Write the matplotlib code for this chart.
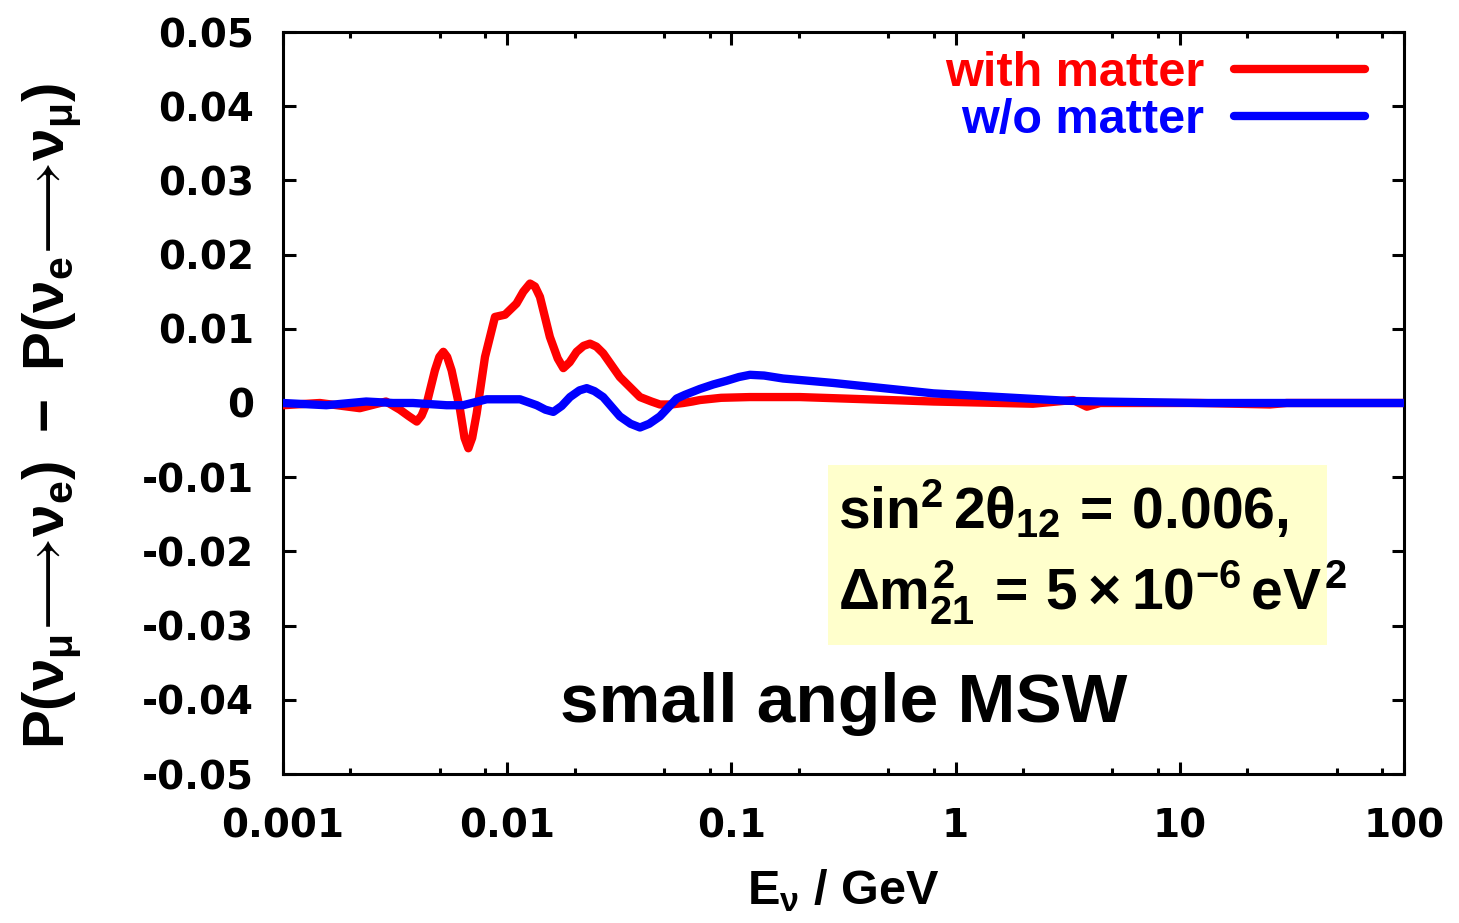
import matplotlib
matplotlib.use('Agg')
import matplotlib.pyplot as plt
from matplotlib.patches import Rectangle
from matplotlib.ticker import FixedLocator, FixedFormatter

# bold sans maths, close to the gnuplot/Arial look
plt.rcParams['mathtext.fontset'] = 'custom'
plt.rcParams['mathtext.rm'] = 'Liberation Sans:bold'
plt.rcParams['mathtext.it'] = 'Liberation Sans:bold'
plt.rcParams['mathtext.bf'] = 'Liberation Sans:bold'
plt.rcParams['mathtext.sf'] = 'Liberation Sans:bold'

# Data
e_matter = [0.001, 0.00146, 0.0022, 0.00288, 0.00332, 0.00365, 0.00395, 0.00415,
            0.00438, 0.00476, 0.00498, 0.00519, 0.00540, 0.00565, 0.00616, 0.00645,
            0.00671, 0.00698, 0.00731, 0.00796, 0.00882, 0.00978, 0.0110, 0.0118,
            0.01264, 0.0133, 0.0140, 0.0155, 0.0168, 0.0178, 0.0190, 0.0204, 0.0219,
            0.0234, 0.0250, 0.0268, 0.0318, 0.0391, 0.0440, 0.0480, 0.0540, 0.0610,
            0.067, 0.0724, 0.09, 0.121, 0.202, 0.401, 0.796, 1.58, 2.21, 3.34, 3.85,
            4.41, 12.3, 25.2, 30.0, 100.0]
p_matter = [-0.0003, 0.0, -0.0007, 0.0002, -0.0009, -0.0018, -0.0025, -0.0017,
            0.0, 0.0044, 0.0062, 0.0069, 0.0062, 0.0044, -0.0009, -0.0047,
            -0.0061, -0.0047, -0.0014, 0.0062, 0.0116, 0.0119, 0.0134, 0.0150,
            0.0161, 0.0157, 0.0143, 0.0089, 0.0060, 0.0047, 0.0055, 0.0069, 0.0077,
            0.0080, 0.0076, 0.0067, 0.0035, 0.0008, 0.0002, -0.0002, -0.0002, 0.0,
            0.0002, 0.0004, 0.0007, 0.0008, 0.0008, 0.0005, 0.0002, 0.0, -0.0001, 0.0004, -0.0005,
            0.0, 0.0, -0.0002, 0.0, 0.0]

e_vacuum = [0.001, 0.00156, 0.00235, 0.0031, 0.0038, 0.00537, 0.00635, 0.0081,
            0.0114, 0.01354, 0.0148, 0.01606, 0.0175, 0.01906, 0.0210, 0.02263,
            0.0245, 0.0268, 0.0318, 0.0355, 0.0391, 0.0430, 0.0480, 0.0570, 0.0620,
            0.0724, 0.0830, 0.0953, 0.108, 0.121, 0.140, 0.170, 0.285, 0.476, 0.796,
            1.58, 3.13, 4.41, 12.3, 100.0]
p_vacuum = [0.0, -0.0003, 0.0002, 0.0, 0.0, -0.0003, -0.0003, 0.0005,
            0.0005, -0.0003, -0.0009, -0.0012, -0.0004, 0.0008, 0.0017, 0.0020,
            0.0016, 0.0008, -0.0018, -0.0028, -0.0033, -0.0028, -0.0018, 0.0006, 0.0011,
            0.0019, 0.0025, 0.0030, 0.0035, 0.0038, 0.0037, 0.0033, 0.0027, 0.0020, 0.0013,
            0.0008, 0.0003, 0.0002, 0.0, 0.0]

xticks = [0.001, 0.01, 0.1, 1, 10, 100]
xtick_labels = ['0.001', '0.01', '0.1', '1', '10', '100']
yticks = [-0.05, -0.04, -0.03, -0.02, -0.01, 0, 0.01, 0.02, 0.03, 0.04, 0.05]
ytick_labels = ['-0.05', '-0.04', '-0.03', '-0.02', '-0.01', '0',
                '0.01', '0.02', '0.03', '0.04', '0.05']

fig = plt.figure(figsize=(14.59, 9.23), dpi=100)
ax = fig.add_axes([283/1459, 1-774/923, 1121/1459, 742/923])

ax.plot(e_matter, p_matter, color='#FF0000', lw=6, solid_joinstyle='round',
        solid_capstyle='round', label='with matter', zorder=3)
ax.plot(e_vacuum, p_vacuum, color='#0000FF', lw=6, solid_joinstyle='round',
        solid_capstyle='round', label='w/o matter', zorder=4)

ax.set_xscale('log')
ax.set_xlim(0.001, 100)
ax.set_ylim(-0.05, 0.05)

ax.xaxis.set_major_locator(FixedLocator(xticks))
ax.xaxis.set_major_formatter(FixedFormatter(xtick_labels))
minor = [m * 10.0**k for k in range(-3, 2) for m in (2, 5, 8)]
ax.xaxis.set_minor_locator(FixedLocator(minor))
ax.xaxis.set_minor_formatter(FixedFormatter([''] * len(minor)))
ax.yaxis.set_major_locator(FixedLocator(yticks))
ax.yaxis.set_major_formatter(FixedFormatter(ytick_labels))

for s in ax.spines.values():
    s.set_linewidth(2.2)
ax.tick_params(which='both', direction='in', top=True, right=True, width=2.2)
ax.tick_params(which='major', length=9)
ax.tick_params(which='minor', length=4.5)
ax.tick_params(axis='x', which='major', pad=24)
ax.tick_params(axis='y', which='major', pad=21)
for lab in ax.get_xticklabels() + ax.get_yticklabels():
    lab.set_fontfamily('DejaVu Sans')
    lab.set_fontweight('bold')
    lab.set_fontsize(28)

ax.set_xlabel(r'$E_\nu$ / GeV', fontsize=35, fontweight='bold',
              fontfamily='Liberation Sans')
ax.xaxis.set_label_coords(0.5, -0.158)
ax.xaxis.label.set_va('center')
ax.set_ylabel(r'$P(\nu_\mu\!\longrightarrow\!\nu_e)\ -\ P(\nu_e\!\longrightarrow\!\nu_\mu)$',
              fontsize=42)
ax.yaxis.set_label_coords(-0.206, 0.482)
ax.yaxis.label.set_va('center')

leg = ax.legend(loc='upper right', bbox_to_anchor=(0.965, 0.975), frameon=False,
                markerfirst=False, labelcolor='linecolor', handlelength=2.7,
                handletextpad=0.6, labelspacing=0.05, borderaxespad=0, borderpad=0,
                prop=dict(family='Liberation Sans', weight='bold', size=35))

ax.add_patch(Rectangle((0.486, 0.174), 0.445, 0.2425, transform=ax.transAxes,
                       facecolor='#FFFFCC', edgecolor='none', zorder=5))
ax.text(0.495, 0.356, r'$\sin^2 2\theta_{12}\,=\,0.006,$', transform=ax.transAxes,
        fontsize=41, ha='left', va='center', zorder=6)
ax.text(0.495, 0.245, r'$\Delta m^2_{21}\,=\,5\times10^{-6}\,eV^2$', transform=ax.transAxes,
        fontsize=41, ha='left', va='center', zorder=6)

ax.text(0.50, 0.095, 'small angle MSW', transform=ax.transAxes, fontsize=50,
        fontweight='bold', fontfamily='Liberation Sans', ha='center', va='center', zorder=6)

fig.savefig('out.png', dpi=100, facecolor='white')
